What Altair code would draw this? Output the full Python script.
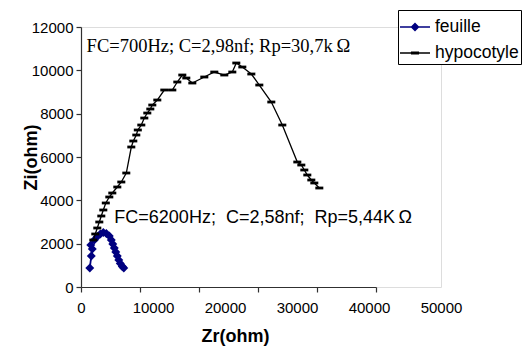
import altair as alt
import pandas as pd

# ---- data -------------------------------------------------------------
series_names = ["feuille", "hypocotyle"]
series_colors = ["#000080", "#000000"]

feuille_zr = [1222, 1431, 1570, 1361, 1847, 2264, 2681, 3098, 3514, 3931, 4209,
              4417, 4625, 4834, 5042, 5250, 5459, 5737, 5945]
feuille_zi = [877, 1431, 1754, 1938, 2169, 2331, 2446, 2515, 2469, 2354, 2169,
              1984, 1800, 1615, 1431, 1246, 1085, 946, 877]

hypo_zr = [1708, 1986, 2264, 2542, 2820, 3098, 3445, 3931, 4348, 5042, 5598, 6292,
           6987, 7265, 7681, 7890, 8376, 8793, 9209, 9626, 9904, 10598, 11571, 12682,
           13376, 14071, 14626, 15460, 17126, 18515, 19904, 21016, 21571, 22405,
           23655, 24766, 26432, 27960, 30044, 30599, 31016, 31433, 31988, 32405, 33100]
hypo_zi = [2169, 2446, 2723, 3000, 3277, 3554, 3877, 4154, 4338, 4615, 4846, 5261,
           6461, 6738, 7015, 7246, 7476, 7799, 8030, 8215, 8399, 8630, 9092, 9092,
           9461, 9784, 9645, 9415, 9692, 9922, 9784, 9922, 10338, 10153,
           9830, 9322, 8538, 7476, 5769, 5630, 5400, 5169, 4938, 4800, 4569]

x_values = [0, 10000, 20000, 30000, 40000, 50000]
y_values = [0, 2000, 4000, 6000, 8000, 10000, 12000]

ann_serif_text = ["FC=700Hz; C=2,98nf; Rp=30,7k\u2009\u03a9"]
ann_serif_zr = [780]
ann_serif_zi = [11120]
ann_sans_text = ["FC=6200Hz;\u00a0 C=2,58nf;\u00a0 Rp=5,44K\u2009\u03a9"]
ann_sans_zr = [4630]
ann_sans_zi = [3180]

# ---- tables -----------------------------------------------------------
df = pd.concat([
    pd.DataFrame({"Zr": feuille_zr, "Zi": feuille_zi, "serie": series_names[0],
                  "idx": range(len(feuille_zr))}),
    pd.DataFrame({"Zr": hypo_zr, "Zi": hypo_zi, "serie": series_names[1],
                  "idx": range(len(hypo_zr))}),
], ignore_index=True)

ann_serif = pd.DataFrame({"Zr": ann_serif_zr, "Zi": ann_serif_zi, "txt": ann_serif_text})
ann_sans = pd.DataFrame({"Zr": ann_sans_zr, "Zi": ann_sans_zi, "txt": ann_sans_text})
legend_df = pd.DataFrame({"serie": series_names})
tick_df = pd.DataFrame({"t": x_values})

SANS = "Liberation Sans"
SERIF = "Liberation Serif"
AX = "#303030"

x_scale = alt.Scale(domain=[0, 50000], nice=False, zero=False)
y_scale = alt.Scale(domain=[0, 12000], nice=False)

x_axis = alt.Axis(values=x_values, format="d", domain=False, ticks=False, tickSize=0,
                  labelPadding=13, labelFont=SANS, labelFontSize=15, labelColor="black",
                  labelFlush=False, labelOverlap=False,
                  title=None, grid=False, orient="bottom")
y_axis = alt.Axis(values=y_values, format="d", tickSize=5, labelPadding=3,
                  labelFont=SANS, labelFontSize=15, labelColor="black",
                  domainColor=AX, tickColor=AX, domainWidth=1.2, tickWidth=1.2,
                  title="Zi(ohm)", titleFont=SANS, titleFontSize=18, titleFontWeight="bold",
                  titleColor="black", titleX=-41, titleY=130, grid=False)

X = alt.X("Zr:Q", scale=x_scale, axis=x_axis)
Y = alt.Y("Zi:Q", scale=y_scale, axis=y_axis)

dash_path = "M-1,-0.35 L1,-0.35 L1,0.35 L-1,0.35 Z"
leg_paths = [
    "M-1,-0.045 L1,-0.045 L1,0.045 L-1,0.045 Z M0,-0.3 L0.3,0 L0,0.3 L-0.3,0 Z",
    "M-1,-0.045 L1,-0.045 L1,0.045 L-1,0.045 Z M-0.27,-0.1 L0.27,-0.1 L0.27,0.1 L-0.27,0.1 Z",
]
marker_shapes = ["diamond", dash_path]
marker_sizes = [80, 64]
line_widths = [1.8, 1.3]

base = alt.Chart(df)
layers = []
for name, col, shp, sz, lw in zip(series_names, series_colors, marker_shapes,
                                   marker_sizes, line_widths):
    sub = base.transform_filter(alt.datum.serie == name)
    layers.append(sub.mark_line(strokeWidth=lw).encode(
        x=X, y=Y, order="idx:Q", color=alt.value(col)))
    layers.append(sub.mark_point(shape=shp, filled=True, size=sz, opacity=1,
                                 strokeWidth=0.8).encode(
        x=X, y=Y, color=alt.value(col)))

layers.append(alt.Chart(ann_serif).mark_text(
    font=SERIF, fontSize=18.5, align="left", baseline="middle", color="black").encode(
    x=X, y=Y, text="txt:N"))
layers.append(alt.Chart(ann_sans).mark_text(
    font=SANS, fontSize=18, align="left", baseline="middle", color="black").encode(
    x=X, y=Y, text="txt:N"))

leg = alt.Legend(title=None, orient="none", legendX=317, legendY=-17, padding=2,
                 rowPadding=2, symbolSize=900, labelFont=SANS, labelFontSize=17.5,
                 labelColor="black", labelOffset=5, strokeColor="black",
                 fillColor="white", symbolStrokeWidth=0)
layers.append(alt.Chart(legend_df).transform_filter("false").mark_point(
    filled=True, opacity=1).encode(
    color=alt.Color("serie:N", scale=alt.Scale(domain=series_names, range=series_colors),
                    legend=leg),
    shape=alt.Shape("serie:N", scale=alt.Scale(domain=series_names, range=leg_paths),
                    legend=leg),
))

data_layer = alt.layer(*layers)

tick_layer = alt.Chart(tick_df).mark_point(opacity=0).encode(
    x=alt.X("t:Q", scale=alt.Scale(domain=[0, 50000], range=[0, 295], nice=False),
            axis=alt.Axis(values=x_values, labels=False, tickSize=5, orient="bottom",
                          domainColor=AX, tickColor=AX, domainWidth=1.2, tickWidth=1.2,
                          title="Zr(ohm)", titleFont=SANS, titleFontSize=18,
                          titleFontWeight="bold", titleColor="black",
                          titlePadding=35, titleX=154, grid=False)),
)

chart = alt.layer(data_layer, tick_layer).resolve_scale(x="independent").properties(
    width=360, height=260,
    autosize=alt.AutoSizeParams(type="none"),
    padding={"left": 73, "top": 19, "right": 81, "bottom": 59},
).configure_view(strokeWidth=0).configure(background="white")

chart.save("out.html", embed_options={"renderer": "svg", "actions": False})
